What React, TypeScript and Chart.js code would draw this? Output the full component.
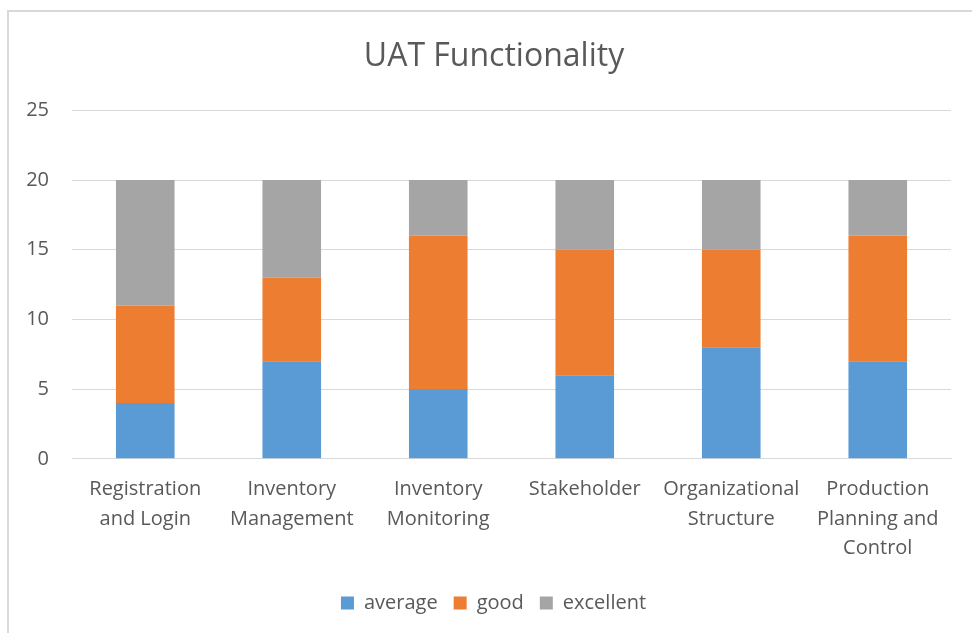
import React, { useEffect, useRef } from "react";
import { Chart, registerables } from "chart.js";

Chart.register(...registerables);

const categories: (string | string[])[] = [
  ["Registration", "and Login"],
  ["Inventory", "Management"],
  ["Inventory", "Monitoring"],
  "Stakeholder",
  ["Organizational", "Structure"],
  ["Production", "Planning and", "Control"],
];
const averageValues = [4, 7, 5, 6, 8, 7];
const goodValues = [7, 6, 11, 9, 7, 9];
const excellentValues = [9, 7, 4, 5, 5, 4];
const yTicks = [0, 5, 10, 15, 20, 25];

const FONT = "'Open Sans', 'Noto Sans', sans-serif";
const TXT = "#595959";

// The original chart frame is wider than the visible crop, so title and legend
// are centred slightly right of the visible middle.
const shiftPlugin = {
  id: "shiftHeaderFooter",
  afterLayout(chart: any) {
    const t = chart.titleBlock;
    if (t) {
      t.left += 18.5;
      t.right += 18.5;
    }
    const l = chart.legend;
    if (l) {
      l.left += 18;
      l.right += 18;
    }
  },
};

export default function App() {
  const ref = useRef<HTMLCanvasElement | null>(null);
  useEffect(() => {
    document.body.style.overflow = "hidden";
    const chart = new Chart(ref.current!, {
      type: "bar",
      data: {
        labels: categories,
        datasets: [
          { label: "average", data: averageValues, backgroundColor: "#5B9BD5", barPercentage: 0.8, categoryPercentage: 0.5 },
          { label: "good", data: goodValues, backgroundColor: "#ED7D31", barPercentage: 0.8, categoryPercentage: 0.5 },
          { label: "excellent", data: excellentValues, backgroundColor: "#A5A5A5", barPercentage: 0.8, categoryPercentage: 0.5 },
        ],
      },
      plugins: [shiftPlugin],
      options: {
        animation: false,
        responsive: false,
        maintainAspectRatio: false,
        layout: { padding: { left: 0, right: 21, top: 20, bottom: 10 } },
        plugins: {
          title: {
            display: true,
            text: "UAT Functionality",
            color: TXT,
            font: { family: FONT, size: 32, weight: "normal" },
            padding: { top: 18, bottom: 34 },
          },
          legend: {
            position: "bottom",
            labels: {
              color: TXT,
              font: { family: FONT, size: 20 },
              boxWidth: 13,
              boxHeight: 13,
              padding: 16,
            },
          },
          tooltip: { enabled: false },
        },
        scales: {
          x: {
            stacked: true,
            grid: { display: false, drawTicks: false },
            border: { display: true, color: "#d9d9d9", width: 1 },
            afterFit: (s: any) => {
              s.height = s.height - 2;
            },
            ticks: {
              color: TXT,
              font: { family: FONT, size: 20, lineHeight: 1.47 },
              padding: 16,
              maxRotation: 0,
              autoSkip: false,
            },
          },
          y: {
            stacked: true,
            min: 0,
            max: 25,
            afterBuildTicks: (s: any) => {
              s.ticks = yTicks.map((v) => ({ value: v }));
            },
            afterFit: (s: any) => {
              s.width = 72;
            },
            grid: { color: "#d9d9d9", drawTicks: false, lineWidth: 1 },
            border: { display: false },
            ticks: {
              color: TXT,
              font: { family: FONT, size: 20 },
              padding: 23,
            },
          },
        },
      },
    });
    return () => chart.destroy();
  }, []);
  return (
    <div>
      <div
        style={{
          position: "fixed",
          left: 0,
          top: 0,
          width: 972,
          height: 633,
          background: "#fff",
        }}
      >
        <canvas ref={ref} width={972} height={633} style={{ display: "block" }} />
      </div>
      <div
        style={{
          position: "fixed",
          left: 7,
          top: 10,
          width: 980,
          height: 640,
          borderTop: "2px solid #d9d9d9",
          borderLeft: "2px solid #d9d9d9",
          pointerEvents: "none",
        }}
      />
    </div>
  );
}
